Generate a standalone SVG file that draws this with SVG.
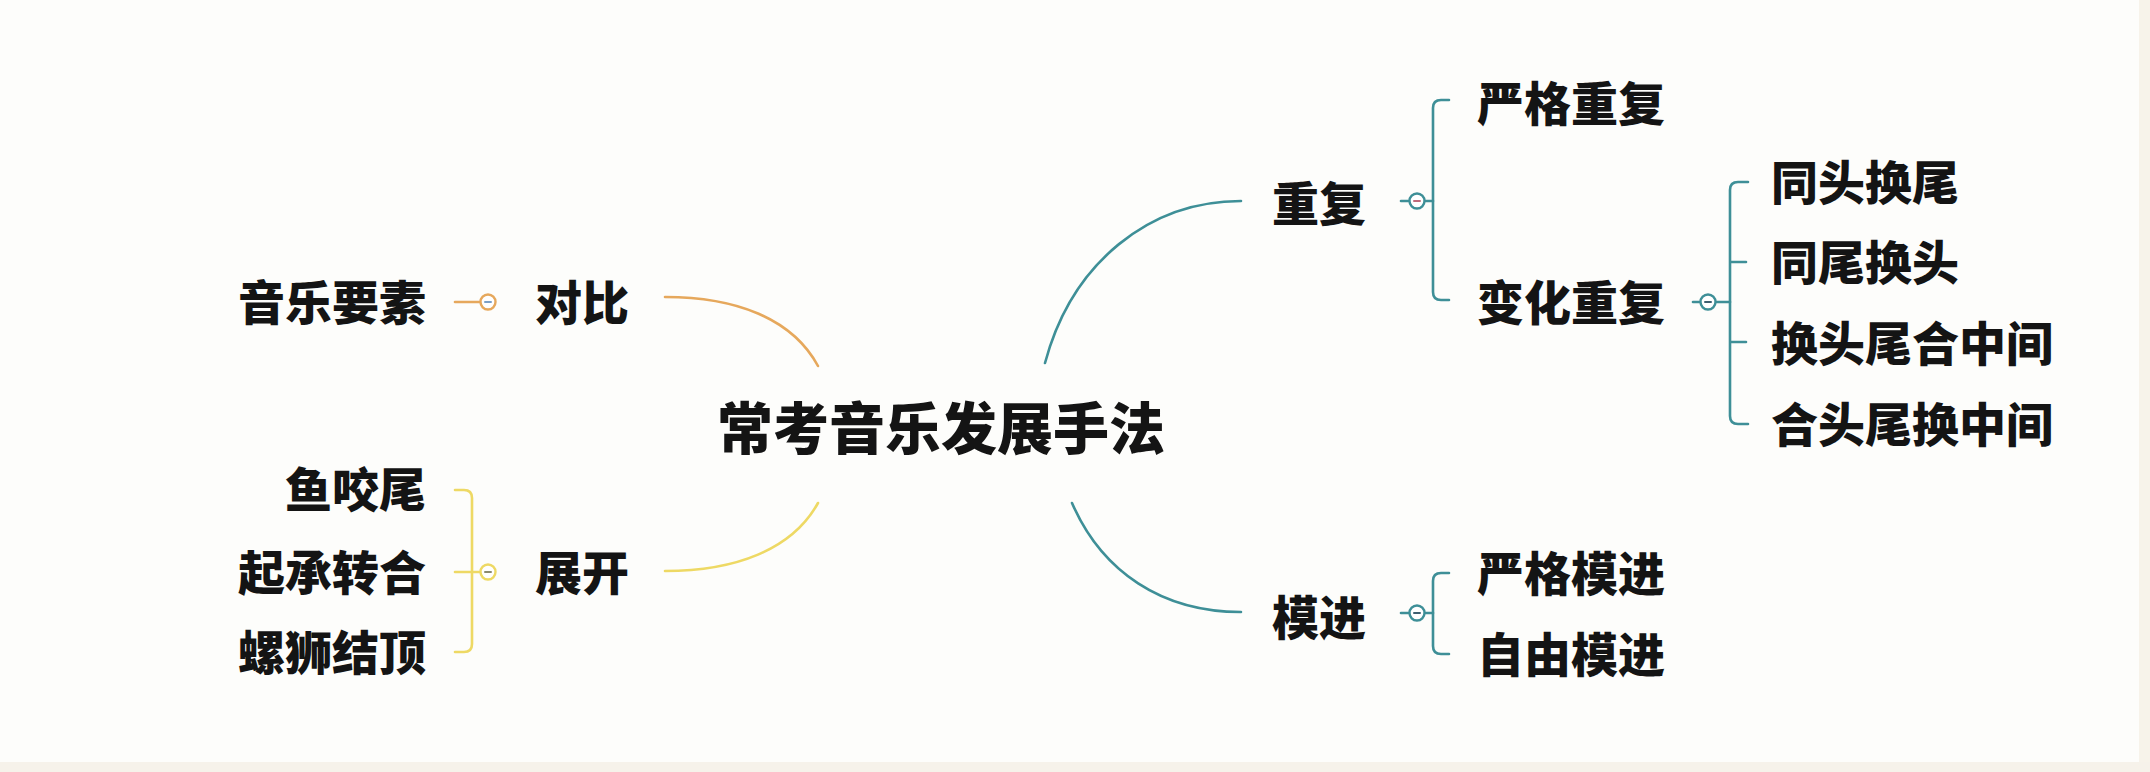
<svg xmlns="http://www.w3.org/2000/svg" width="2150" height="772" viewBox="0 0 2150 772">
<style>
.t{font-family:"Noto Sans CJK SC","Noto Sans",sans-serif;font-weight:900;font-size:47px;fill:#141414}
.c{font-size:56px}
.e{text-anchor:end}
.ln{fill:none;stroke-width:2.6;stroke-linecap:round;stroke-linejoin:round}
.or{stroke:#e6a85c}
.ye{stroke:#eed964}
.te{stroke:#3e8f97}
.kb{fill:#ffffff;stroke-width:2.4}
.mn{stroke-width:2;stroke-linecap:round}
</style>
<rect x="0" y="0" width="2150" height="772" fill="#fdfdfb"/>
<rect x="2139" y="0" width="11" height="772" fill="#f7f3ea"/>
<rect x="0" y="762" width="2150" height="10" fill="#f6f2ea"/>

<g id="connectors">
  <path class="ln or" d="M665 297 C735 297 792 318 818 366"/>
  <path class="ln ye" d="M665 571 C735 571 792 550 818 503"/>
  <path class="ln te" d="M1045 363 C1072 262 1150 201 1241 201"/>
  <path class="ln te" d="M1072 503 C1102 572 1162 612 1241 612"/>
  <path class="ln or" d="M455 302 H480"/>
  <path class="ln ye" d="M455 490 H464 Q472 490 472 498 V644 Q472 652 464 652 H455"/>
  <path class="ln ye" d="M455 572 H480"/>
  <path class="ln te" d="M1401 201 H1433"/>
  <path class="ln te" d="M1449 100 H1441 Q1433 100 1433 108 V292 Q1433 300 1441 300 H1449"/>
  <path class="ln te" d="M1693 302 H1730"/>
  <path class="ln te" d="M1748 182 H1738 Q1730 182 1730 190 V416 Q1730 424 1738 424 H1748 M1730 262 H1746 M1730 342 H1746"/>
  <path class="ln te" d="M1401 613 H1433"/>
  <path class="ln te" d="M1449 573 H1441 Q1433 573 1433 581 V646 Q1433 654 1441 654 H1449"/>
</g>

<g id="toggles">
  <circle class="kb or" cx="488" cy="302" r="7.5"/><path class="mn" stroke="#7aa0c8" d="M485 302 H491"/>
  <circle class="kb ye" cx="488" cy="572" r="7.5"/><path class="mn" stroke="#8a8a70" d="M485 572 H491"/>
  <circle class="kb te" cx="1417" cy="201" r="7.5"/><path class="mn" stroke="#c06a7a" d="M1414 201 H1420"/>
  <circle class="kb te" cx="1708" cy="302" r="7.5"/><path class="mn" stroke="#3e5f70" d="M1705 302 H1711"/>
  <circle class="kb te" cx="1417" cy="613" r="7.5"/><path class="mn" stroke="#3e5f70" d="M1414 613 H1420"/>
</g>

<g id="root"><text class="t c" x="717" y="449">常考音乐发展手法</text></g>

<g id="n-duibi"><text class="t" x="535" y="320">对比</text></g>
<g id="n-yinyueyaosu"><text class="t e" x="426" y="320">音乐要素</text></g>

<g id="n-zhankai"><text class="t" x="535" y="590">展开</text></g>
<g id="n-yuyaowei"><text class="t e" x="426" y="507">鱼咬尾</text></g>
<g id="n-qichengzhuanhe"><text class="t e" x="426" y="590">起承转合</text></g>
<g id="n-luoshijieding"><text class="t e" x="426" y="670">螺狮结顶</text></g>

<g id="n-chongfu"><text class="t" x="1272" y="221">重复</text></g>
<g id="n-yangechongfu"><text class="t" x="1477" y="121">严格重复</text></g>
<g id="n-bianhuachongfu"><text class="t" x="1477" y="320">变化重复</text></g>
<g id="n-tongtouhuanwei"><text class="t" x="1771" y="200">同头换尾</text></g>
<g id="n-tongweihuantou"><text class="t" x="1771" y="280">同尾换头</text></g>
<g id="n-huantouwei"><text class="t" x="1771" y="361">换头尾合中间</text></g>
<g id="n-hetouwei"><text class="t" x="1771" y="442">合头尾换中间</text></g>

<g id="n-mojin"><text class="t" x="1272" y="635">模进</text></g>
<g id="n-yangemojin"><text class="t" x="1477" y="591">严格模进</text></g>
<g id="n-ziyoumojin"><text class="t" x="1477" y="672">自由模进</text></g>
</svg>
